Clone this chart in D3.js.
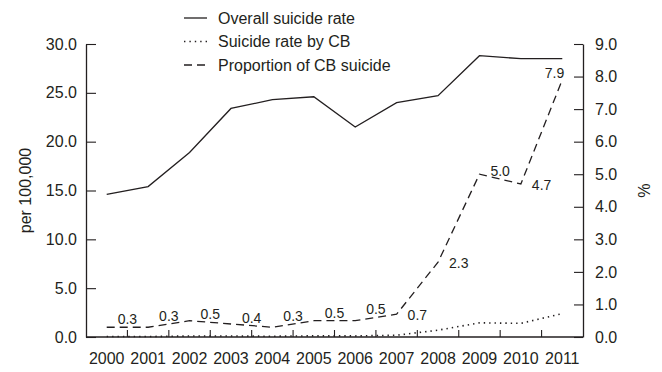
<!DOCTYPE html>
<html>
<head>
<meta charset="utf-8">
<script src="https://cdn.jsdelivr.net/npm/d3@7"></script>
<style>
  html, body { margin: 0; padding: 0; background: #ffffff; }
  svg { display: block; }
  text { font-family: "Liberation Sans", Arial, sans-serif; fill: #231f20; }
</style>
</head>
<body>
<svg id="chart" width="662" height="372"></svg>
<script>
// ---- data ----
const years = ["2000","2001","2002","2003","2004","2005","2006","2007","2008","2009","2010","2011"];
const overallRate = [14.6, 15.4, 18.9, 23.4, 24.3, 24.6, 21.5, 24.0, 24.7, 28.8, 28.5, 28.5];
const cbRate = [0.05, 0.05, 0.1, 0.1, 0.08, 0.12, 0.11, 0.18, 0.7, 1.45, 1.4, 2.4];
const cbProportion = [0.3, 0.3, 0.5, 0.4, 0.3, 0.5, 0.5, 0.7, 2.3, 5.0, 4.7, 7.9];
const leftTicks = [0, 5, 10, 15, 20, 25, 30];
const rightTicks = [0, 1, 2, 3, 4, 5, 6, 7, 8, 9];
const legendLabels = ["Overall suicide rate", "Suicide rate by CB", "Proportion of CB suicide"];
const leftTitle = "per 100,000";
const rightTitle = "%";

// ---- layout ----
const ink = "#231f20";
const mLeft = 86, mRight = 583, mTop = 44, mBottom = 337;
const svg = d3.select("#chart");

const x = d3.scaleBand().domain(years).range([mLeft, mRight]).paddingInner(0).paddingOuter(0);
const yL = d3.scaleLinear().domain([0, 30]).range([mBottom, mTop]);
const yR = d3.scaleLinear().domain([0, 9]).range([mBottom, mTop]);
const cx = d => x(d) + x.bandwidth() / 2;

// left axis
const gL = svg.append("g").attr("transform", `translate(${mLeft},0)`)
  .call(d3.axisLeft(yL).tickValues(leftTicks).tickFormat(d3.format(".1f")).tickSizeInner(-10).tickSizeOuter(0).tickPadding(9));
// right axis
const gR = svg.append("g").attr("transform", `translate(${mRight},0)`)
  .call(d3.axisRight(yR).tickValues(rightTicks).tickFormat(d3.format(".1f")).tickSizeInner(-9).tickSizeOuter(0).tickPadding(12));
// bottom axis: ticks at band boundaries pointing up
const gB = svg.append("g").attr("transform", `translate(0,${mBottom})`)
  .call(d3.axisBottom(x).tickSize(0).tickPadding(16));
gB.select(".domain").remove();
svg.append("line").attr("x1", mLeft).attr("x2", mRight).attr("y1", mBottom).attr("y2", mBottom)
  .attr("stroke", ink).attr("stroke-width", 1.3);
svg.append("g").selectAll("line").data(years.slice(1)).join("line")
  .attr("x1", d => x(d)).attr("x2", d => x(d))
  .attr("y1", mBottom).attr("y2", mBottom - 7)
  .attr("stroke", ink).attr("stroke-width", 1.1);

[gL, gR, gB].forEach(g => {
  g.selectAll(".domain").attr("stroke", ink).attr("stroke-width", 1.3);
  g.selectAll(".tick line").attr("stroke", ink).attr("stroke-width", 1.1);
  g.selectAll(".tick text").style("font-size", "16px").attr("fill", ink)
    .style("font-family", '"Liberation Sans", Arial, sans-serif');
});

// axis titles
svg.append("text").attr("transform", `translate(31,${(mTop + mBottom) / 2}) rotate(-90)`)
  .attr("text-anchor", "middle").style("font-size", "16px").text(leftTitle);
svg.append("text").attr("transform", `translate(638,${(mTop + mBottom) / 2}) rotate(90)`)
  .attr("text-anchor", "middle").style("font-size", "16px").text(rightTitle);

// lines
const lineL = d3.line().x((d, i) => cx(years[i])).y(d => yL(d));
const lineR = d3.line().x((d, i) => cx(years[i])).y(d => yR(d));

svg.append("path").datum(overallRate).attr("d", lineL)
  .attr("fill", "none").attr("stroke", ink).attr("stroke-width", 1.3);
svg.append("path").datum(cbRate).attr("d", lineL)
  .attr("fill", "none").attr("stroke", ink).attr("stroke-width", 1.6)
  .attr("stroke-dasharray", "1.4,4").attr("stroke-linecap", "butt");
svg.append("path").datum(cbProportion).attr("d", lineR)
  .attr("fill", "none").attr("stroke", ink).attr("stroke-width", 1.3)
  .attr("stroke-dasharray", "8,5");

// value labels for proportion
const bw = x.bandwidth();
svg.append("g").selectAll("text").data(cbProportion).join("text")
  .style("font-size", "14px")
  .attr("text-anchor", (d, i) => i === years.length - 1 ? "end" : "middle")
  .attr("x", (d, i) => {
    if (i === years.length - 1) return cx(years[i]) + 2;
    return cx(years[i]) + bw / 2;
  })
  .attr("y", (d, i) => {
    if (i <= 6) {
      const ymid = (yR(d) + yR(cbProportion[i + 1])) / 2;
      return ymid - 3;
    }
    if (i === 9) return yR(d) + 2;
    if (i === years.length - 1) return yR(d) - 2;
    return yR(d) + 6;
  })
  .text(d => d3.format(".1f")(d));

// legend
const legend = svg.append("g");
const dashes = [null, "1.4,4", "8,5"];
legendLabels.forEach((lab, i) => {
  const yy = 18 + i * 23.5;
  legend.append("line").attr("x1", 184).attr("x2", 207).attr("y1", yy).attr("y2", yy)
    .attr("stroke", ink).attr("stroke-width", i === 1 ? 1.6 : 1.3)
    .attr("stroke-dasharray", dashes[i]);
  legend.append("text").attr("x", 218).attr("y", yy).attr("dy", "0.35em")
    .style("font-size", "16px").text(lab);
});
</script>
</body>
</html>
